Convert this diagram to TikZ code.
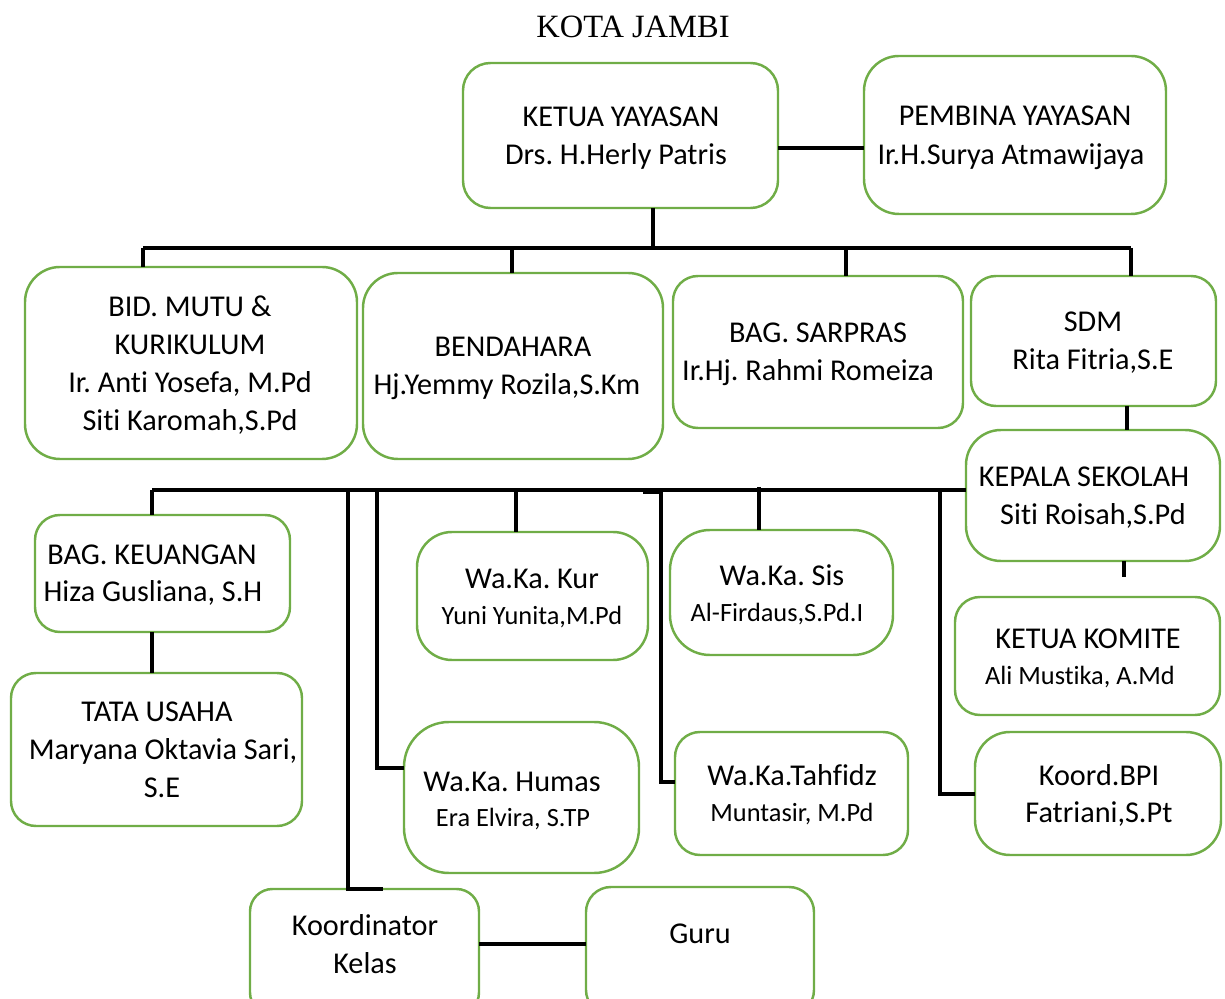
\documentclass[tikz,border=0pt]{standalone}
\usepackage{fontspec}
\setmainfont{Carlito}[Ligatures=NoCommon]
\newfontfamily\titlefont{Liberation Serif}
\definecolor{boxgreen}{HTML}{70AD47}
\frenchspacing
\newcommand\mybox[6][]{\node[box,#1,minimum width={(#4-#2)*0.02cm},minimum height={(#5-#3)*0.02cm}] (#6) at ({(#2+#4)/2},{(#3+#5)/2}) {};}
\begin{document}
\begin{tikzpicture}[x=0.02cm,y=-0.02cm,
  box/.style={draw=boxgreen, line width=1.4pt, rounded corners=0.6cm, inner sep=0pt, outer sep=0pt, fill=white},
  conn/.style={line width=2.2pt, black},
  txt/.style={font=\fontsize{17.2}{20}\selectfont, anchor=base, inner sep=0pt},
  stxt/.style={font=\fontsize{15}{18}\selectfont, anchor=base, inner sep=0pt},
  ttl/.style={font=\titlefont\fontsize{18.5}{22}\selectfont, anchor=base, inner sep=0pt}]
\useasboundingbox (0,0) rectangle (1225,999);
\clip (0,0) rectangle (1225,999);
% title
\node[ttl] (title) at (633,38) {KOTA JAMBI};
% boxes
\mybox[rounded corners=0.55cm]{463}{63}{778}{208}{ketua}
\mybox[rounded corners=0.7cm]{864}{56}{1166}{214}{pembina}
\mybox[rounded corners=0.7cm]{25}{267}{357}{459}{mutu}
\mybox[rounded corners=0.7cm]{363}{273}{663}{459}{bendahara}
\mybox[rounded corners=0.5cm]{673}{276}{963}{428}{sarpras}
\mybox[rounded corners=0.5cm]{971}{276}{1216}{406}{sdm}
\mybox[rounded corners=0.7cm]{966}{430}{1220}{561}{kepala}
\mybox[rounded corners=0.5cm]{35}{515}{290}{632}{keu}
\mybox[rounded corners=0.5cm]{11}{673}{302}{826}{tu}
\mybox[rounded corners=0.7cm]{417}{532}{648}{660}{kur}
\mybox[rounded corners=0.8cm]{670}{530}{893}{655}{sis}
\mybox[rounded corners=0.5cm]{955}{597}{1220}{715}{komite}
\mybox[rounded corners=0.9cm]{404}{722}{639}{873}{humas}
\mybox[rounded corners=0.5cm]{675}{732}{908}{855}{tahfidz}
\mybox[rounded corners=0.7cm]{975}{732}{1221}{855}{bpi}
\mybox[rounded corners=0.45cm]{250}{889}{479}{1015}{kk}
\mybox[rounded corners=0.5cm]{586}{887}{814}{1015}{guru}
% texts
\node[txt] (ketua1) at (621,127) {KETUA YAYASAN};
\node[txt] (ketua2) at (616,165) {Drs. H.Herly Patris};
\node[txt] (pemb1) at (1015,126) {PEMBINA YAYASAN};
\node[txt] (pemb2) at (1011,165) {Ir.H.Surya Atmawijaya};
\node[txt] (mutu1) at (190,317) {BID. MUTU \&};
\node[txt] (mutu2) at (190,355) {KURIKULUM};
\node[txt] (mutu3) at (190,393) {Ir. Anti Yosefa, M.Pd};
\node[txt] (mutu4) at (190,431) {Siti Karomah,S.Pd};
\node[txt] (bend1) at (513,357) {BENDAHARA};
\node[txt] (bend2) at (507,395) {Hj.Yemmy Rozila,S.Km};
\node[txt] (sar1) at (818,343) {BAG. SARPRAS};
\node[txt] (sar2) at (808,381) {Ir.Hj. Rahmi Romeiza};
\node[txt] (sdm1) at (1093,332) {SDM};
\node[txt] (sdm2) at (1093,370) {Rita Fitria,S.E};
\node[txt] (kep1) at (1084,487) {KEPALA SEKOLAH};
\node[txt] (kep2) at (1093,525) {Siti Roisah,S.Pd};
\node[txt] (keu1) at (152,565) {BAG. KEUANGAN};
\node[txt] (keu2) at (153,602) {Hiza Gusliana, S.H};
\node[txt] (tu1) at (157,722) {TATA USAHA};
\node[txt] (tu2) at (163,760) {Maryana Oktavia Sari,};
\node[txt] (tu3) at (162,798) {S.E};
\node[txt] (kur1) at (532,589) {Wa.Ka. Kur};
\node[stxt] (kur2) at (532,625) {Yuni Yunita,M.Pd};
\node[txt] (sis1) at (782,586) {Wa.Ka. Sis};
\node[stxt] (sis2) at (777,622) {Al-Firdaus,S.Pd.I};
\node[txt] (kom1) at (1088,649) {KETUA KOMITE};
\node[stxt] (kom2) at (1080,685) {Ali Mustika, A.Md};
\node[txt] (hum1) at (512,792) {Wa.Ka. Humas};
\node[stxt] (hum2) at (513,827) {Era Elvira, S.TP};
\node[txt] (tah1) at (792,786) {Wa.Ka.Tahfidz};
\node[stxt] (tah2) at (792,822) {Muntasir, M.Pd};
\node[txt] (bpi1) at (1099,786) {Koord.BPI};
\node[txt] (bpi2) at (1099,823) {Fatriani,S.Pt};
\node[txt] (kk1) at (365,936) {Koordinator};
\node[txt] (kk2) at (365,974) {Kelas};
\node[txt] (guru1) at (700,944) {Guru};
% connectors, top level
\coordinate (kp) at (0,148);
\draw[conn] (kp -| ketua.east) -- (kp -| pembina.west);
\coordinate (kd) at (653,248);
\draw[conn] (kd |- ketua.south) -- (kd);
\coordinate (t1) at (143,248);
\coordinate (t2) at (512,248);
\coordinate (t3) at (846,248);
\coordinate (t4) at (1131,248);
\draw[conn] (t1) -- (t4);
\draw[conn] (t1) -- (t1 |- mutu.north);
\draw[conn] (t2) -- (t2 |- bendahara.north);
\draw[conn] (t3) -- (t3 |- sarpras.north);
\draw[conn] (t4) -- (t4 |- sdm.north);
\coordinate (sk) at (1127,0);
\draw[conn] (sk |- sdm.south) -- (sk |- kepala.north);
\coordinate (ks) at (1124,577);
\draw[conn] (ks |- kepala.south) -- (ks);
% second level
\coordinate (m1) at (152,490);
\draw[conn] (m1) -- (m1 -| kepala.west);
\draw[conn] (m1) -- (m1 |- keu.north);
\draw[conn] (m1 |- keu.south) -- (m1 |- tu.north);
\coordinate (m2) at (348,490);
\coordinate (m2e) at (383,0);
\draw[conn] (m2) -- (m2 |- kk.north) -- (m2e |- kk.north);
\coordinate (m3) at (377,490);
\coordinate (h3) at (0,768);
\draw[conn] (m3) |- (h3 -| humas.west);
\coordinate (m4) at (516,490);
\draw[conn] (m4) -- (m4 |- kur.north);
\coordinate (m5a) at (643,492);
\coordinate (m5) at (661,492);
\coordinate (h5) at (0,782);
\draw[conn] (m5a) -- (m5) |- (h5 -| tahfidz.west);
\coordinate (m6) at (759,487);
\draw[conn] (m6) -- (m6 |- sis.north);
\coordinate (m7) at (940,490);
\coordinate (h7) at (0,794);
\draw[conn] (m7) |- (h7 -| bpi.west);
\coordinate (g) at (0,944);
\draw[conn] (g -| kk.east) -- (g -| guru.west);
\end{tikzpicture}
\end{document}
